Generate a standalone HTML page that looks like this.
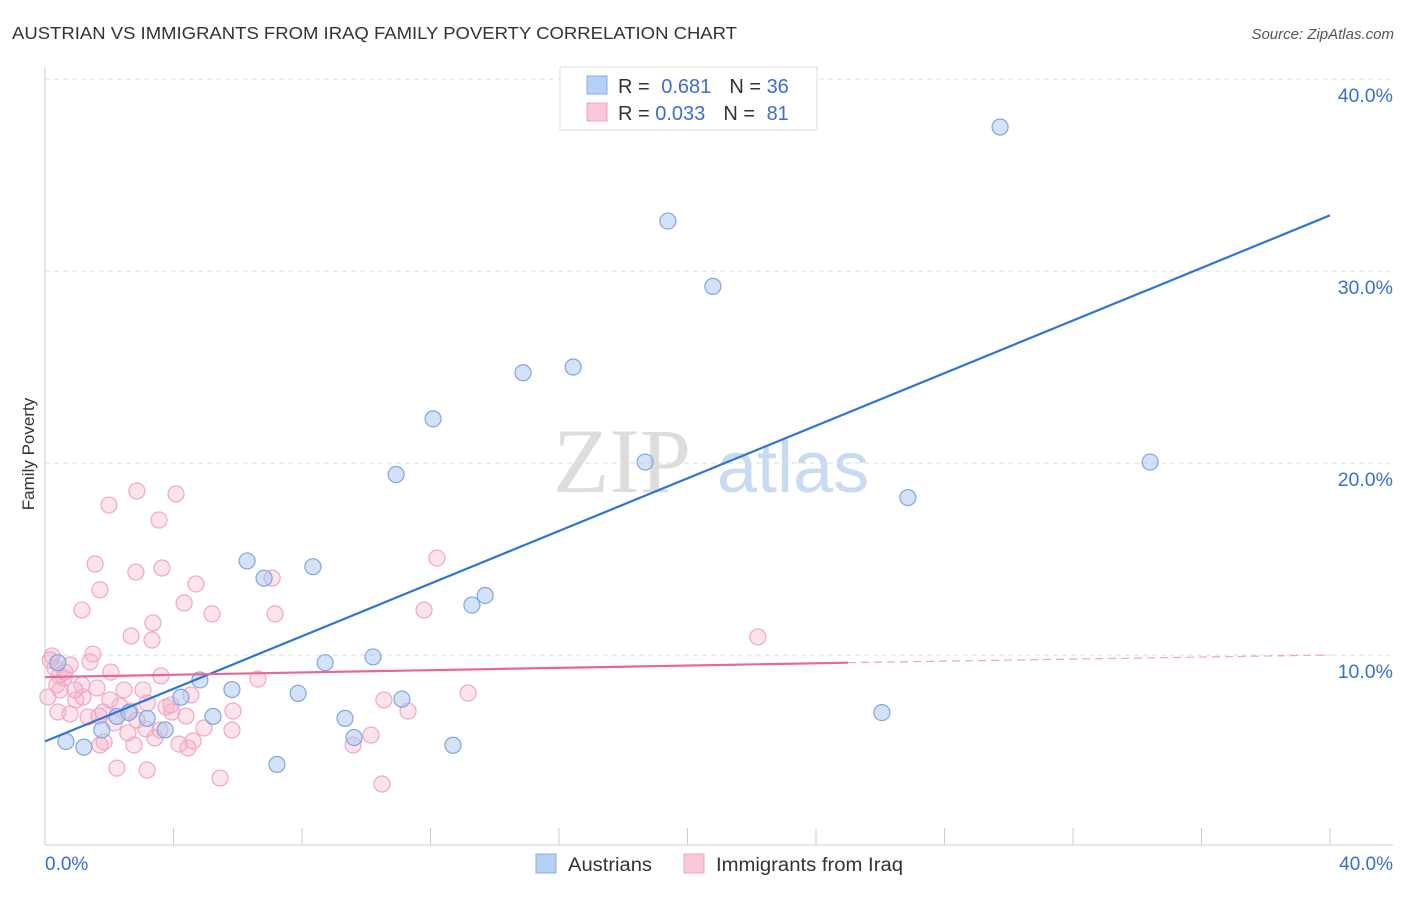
<!DOCTYPE html>
<html><head><meta charset="utf-8"><style>
body{margin:0;background:#fff;font-family:"Liberation Sans",sans-serif;}
</style></head><body>
<svg id="chart" width="1406" height="892" xmlns="http://www.w3.org/2000/svg">
<text x="12" y="39" font-size="17.5" fill="#333" textLength="725" lengthAdjust="spacingAndGlyphs">AUSTRIAN VS IMMIGRANTS FROM IRAQ FAMILY POVERTY CORRELATION CHART</text>
<text x="1394" y="39" font-size="15" fill="#555" font-style="italic" text-anchor="end">Source: ZipAtlas.com</text>
<g>
<text x="553" y="492" font-size="92" fill="#ddd" font-family="Liberation Serif,serif">ZIP</text>
<text x="717" y="492" font-size="72" fill="#c9daf3">atlas</text>
</g>
<g id="grid"></g><g id="axes"></g><g id="pts"></g><g id="lines"></g>
<text x="36" y="456" font-size="17" fill="#333" transform="rotate(-90 34 456)" text-anchor="middle">Family Poverty</text>
<g>
<rect x="560" y="67" width="257" height="63" fill="#fff" stroke="#ddd"/>
<rect x="587" y="76" width="20" height="18" fill="#b7d0f5" stroke="#86aee6"/>
<rect x="587" y="103" width="20" height="18" fill="#fac8d7" stroke="#f0a4bd"/>
<text x="618" y="93" font-size="20" fill="#333">R = <tspan fill="#3a6fd0" dx="6">0.681</tspan><tspan dx="18">N = </tspan><tspan fill="#3a6fd0">36</tspan></text>
<text x="618" y="120" font-size="20" fill="#333">R = <tspan fill="#3a6fd0">0.033</tspan><tspan dx="18">N = </tspan><tspan fill="#3a6fd0" dx="6">81</tspan></text>
</g>
<g>
<rect x="536" y="854" width="20" height="19" fill="#b7d0f5" stroke="#86aee6"/>
<text x="568" y="871" font-size="19" fill="#333" textLength="84" lengthAdjust="spacingAndGlyphs">Austrians</text>
<rect x="684" y="854" width="20" height="19" fill="#fac8d7" stroke="#f0a4bd"/>
<text x="716" y="871" font-size="19" fill="#333" textLength="187" lengthAdjust="spacingAndGlyphs">Immigrants from Iraq</text>
</g>
</svg>
<script>
const blueX=[29.73,19.39,20.79,16.44,14.88,12.08,10.93,18.68,34.40,26.86,6.29,8.34,6.82,13.70,13.29,8.72,10.21,4.82,5.82,7.88,4.23,11.11,9.34,5.23,26.05,3.18,2.24,2.61,3.74,1.77,0.65,9.62,12.70,1.21,7.22,0.40];
const blueY=[37.5,32.6,29.2,25.0,24.7,22.3,19.4,20.05,20.05,18.2,14.9,14.6,14.0,13.1,12.6,9.6,9.9,8.7,8.2,8.0,7.8,7.7,6.7,6.8,7.0,6.7,6.8,7.0,6.1,6.1,5.5,5.7,5.3,5.2,4.3,9.6];
const pinkX=[2.86,4.08,1.99,3.55,1.56,2.83,3.64,12.20,4.70,1.71,7.07,1.15,4.33,5.20,7.16,3.36,2.68,3.33,11.80,22.19,1.49,0.22,1.40,0.78,2.05,3.61,0.44,0.59,6.63,1.15,1.62,2.46,3.05,4.54,0.09,0.96,1.18,13.17,10.55,2.02,1.81,0.40,0.78,2.33,2.65,3.77,3.95,4.39,5.85,11.30,1.34,2.15,3.14,2.58,4.95,3.42,4.61,1.84,4.17,2.77,4.45,10.15,9.59,2.24,3.18,5.45,10.49,0.31,0.16,0.62,1.68,3.92,0.37,0.47,0.93,1.71,2.86,3.18,5.82,3.58];
const pinkY=[18.54,18.39,17.81,17.03,14.74,14.32,14.53,15.05,13.70,13.39,14.01,12.34,12.71,12.14,12.14,11.67,10.99,10.78,12.34,10.94,10.05,9.95,9.64,9.48,9.11,8.91,8.91,8.80,8.75,8.44,8.28,8.18,8.18,7.92,7.81,7.66,7.81,8.02,7.66,7.66,7.03,7.03,6.93,7.34,7.08,7.29,7.03,6.82,7.08,7.08,6.77,6.46,6.15,5.94,6.20,5.68,5.52,5.47,5.36,5.31,5.16,5.83,5.31,4.11,4.01,3.59,3.28,9.32,9.74,9.11,6.82,7.40,8.44,8.18,8.18,5.31,6.61,7.50,6.09,6.09];
const yTicks=[10,20,30,40];
const yTickLabels=["10.0%","20.0%","30.0%","40.0%"];
const blueTrend=[5.5,32.9];
const pinkTrend=[8.85,9.6,10.0];
const NS="http://www.w3.org/2000/svg";
const sx=v=>45+v*32.125, sy=v=>847-v*19.2;
function mk(tag,a,parent){const e=document.createElementNS(NS,tag);for(const k in a)e.setAttribute(k,a[k]);document.getElementById(parent).appendChild(e);return e;}
yTicks.forEach((t,i)=>{
 const g=mk('line',{x1:45,x2:1393,y1:sy(t),y2:sy(t),stroke:'#ddd','stroke-dasharray':'5,4'},'grid');
 
 
 const l=mk('text',{x:1393,y:sy(t)+23,'font-size':19.5,fill:'#3a6fd0','text-anchor':'end'},'grid');
 l.textContent=yTickLabels[i];
 
 
});
let a=mk('line',{x1:45,x2:45,y1:67,y2:845,stroke:'#ccc'},'axes');


a=mk('line',{x1:45,x2:1393,y1:845,y2:845,stroke:'#ccc'},'axes');


for(let i=0;i<=10;i++){const t=mk('line',{x1:sx(i*4),x2:sx(i*4),y1:828,y2:845,stroke:'#ccc'},'axes');
 
 }
let xl=mk('text',{x:45,y:870,'font-size':19,fill:'#3a6fd0'},'axes');xl.textContent='0.0%';


xl=mk('text',{x:1393,y:870,'font-size':19,fill:'#3a6fd0','text-anchor':'end'},'axes');xl.textContent='40.0%';


pinkX.forEach((x,i)=>{const c=mk('circle',{cx:sx(x),cy:sy(pinkY[i]),r:8,fill:'rgba(247,175,200,0.35)',stroke:'#f2a7c0','stroke-width':1.2},'pts');
 
 });
blueX.forEach((x,i)=>{const c=mk('circle',{cx:sx(x),cy:sy(blueY[i]),r:8,fill:'rgba(170,198,242,0.5)',stroke:'#7fa6e0','stroke-width':1.2},'pts');
 
 });
let ln=mk('line',{x1:sx(0),y1:sy(blueTrend[0]),x2:sx(40),y2:sy(blueTrend[1]),stroke:'#2f74d8','stroke-width':2.2},'lines');


ln=mk('line',{x1:sx(0),y1:sy(pinkTrend[0]),x2:sx(25),y2:sy(pinkTrend[1]),stroke:'#e8669a','stroke-width':2.2},'lines');


ln=mk('line',{x1:sx(25),y1:sy(pinkTrend[1]),x2:sx(40),y2:sy(pinkTrend[2]),stroke:'#f0a4bd','stroke-width':1.2,'stroke-dasharray':'8,5'},'lines');


</script>
</body></html>
